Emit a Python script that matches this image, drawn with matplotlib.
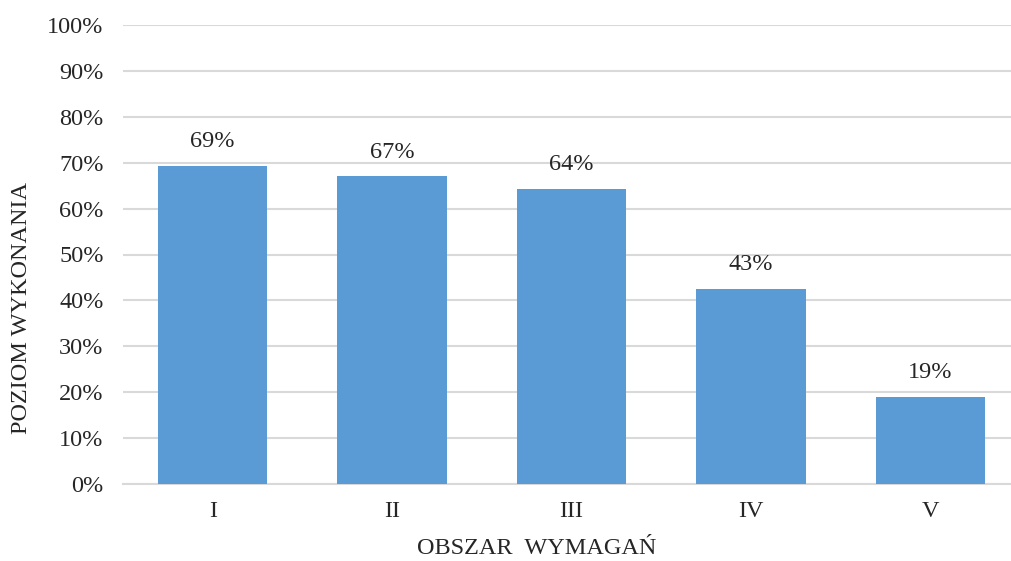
import matplotlib
matplotlib.use("Agg")
import matplotlib.pyplot as plt
from matplotlib.ticker import PercentFormatter, MultipleLocator

categories = ["I", "II", "III", "IV", "V"]
values = [69.2, 67.0, 64.2, 42.5, 19.0]
labels = ["69%", "67%", "64%", "43%", "19%"]

plt.rcParams['font.family'] = ['Liberation Serif', 'DejaVu Serif']
FS = 17.5
TXT = "#262626"

W, H = 1011, 561
fig = plt.figure(figsize=(W / 100, H / 100), dpi=100)
ax = fig.add_axes([123 / W, 1 - 484 / H, (1020 - 123) / W, (484 - 25) / H])

x = list(range(len(categories)))
ax.bar(x, values, width=0.61, color="#5B9BD5", zorder=3)
for xi, v, lab in zip(x, values, labels):
    ax.annotate(lab, (xi, v), xytext=(0, 10), textcoords="offset points",
                ha="center", va="bottom", fontsize=FS, color=TXT)

ax.set_xlim(-0.5, 4.5)
ax.set_ylim(0, 100)
ax.yaxis.set_major_locator(MultipleLocator(10))
ax.yaxis.set_major_formatter(PercentFormatter(decimals=0))
ax.set_xticks(x)
ax.set_xticklabels(categories)
ax.tick_params(axis="both", length=0, labelsize=FS, colors=TXT)
ax.tick_params(axis="x", pad=12)
ax.tick_params(axis="y", pad=14)
ax.grid(axis="y", color="#D9D9D9", linewidth=1.5, zorder=0)
for s in ["top", "right", "left"]:
    ax.spines[s].set_visible(False)
ax.spines["bottom"].set_color("#D9D9D9")
ax.spines["bottom"].set_linewidth(1.5)

fig.text(537 / W, 1 - 548 / H, "OBSZAR  WYMAGAŃ", ha="center", va="center",
         fontsize=FS, color=TXT)
fig.text(22 / W, 1 - 308 / H, "POZIOM WYKONANIA", rotation=90, ha="center", va="center",
         fontsize=FS, color=TXT)

fig.savefig("out.png", dpi=100)
